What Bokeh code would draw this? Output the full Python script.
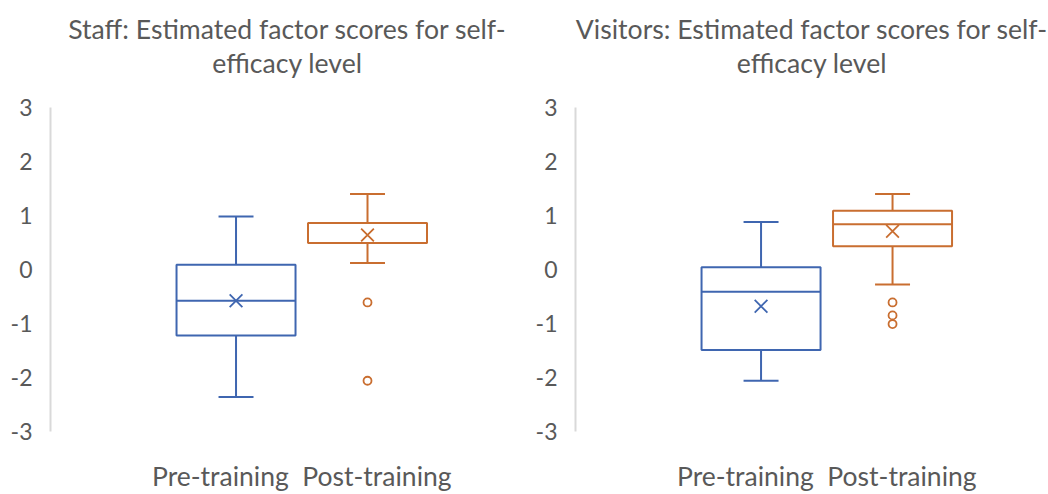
import numpy as np
from bokeh.plotting import figure
from bokeh.layouts import row
from bokeh.models import Range1d, FixedTicker, Title
from bokeh.embed import file_html
from bokeh.resources import INLINE

# ---------------- data ----------------
groups = ["Pre-training", "Post-training"]
x_label = "Pre-training\u00a0\u00a0Post-training"
y_ticks = [-3, -2, -1, 0, 1, 2, 3]

staff_title = ["Staff: Estimated factor scores for self-", "efficacy level"]
staff_low = [-2.36, 0.12]
staff_q1 = [-1.22, 0.49]
staff_median = [-0.58, 0.86]
staff_q3 = [0.09, 0.86]
staff_high = [0.98, 1.40]
staff_mean = [-0.58, 0.64]
staff_outliers_post = [-0.61, -2.06]

visitors_title = ["Visitors: Estimated factor scores for self-", "efficacy level"]
visitors_low = [-2.06, -0.28]
visitors_q1 = [-1.49, 0.43]
visitors_median = [-0.41, 0.84]
visitors_q3 = [0.04, 1.09]
visitors_high = [0.88, 1.40]
visitors_mean = [-0.68, 0.71]
visitors_outliers_post = [-0.61, -0.85, -1.01]

# ---------------- style ----------------
COLORS = ["#3F66B0", "#C96E30"]
TEXT = "#595959"
FONT = "Lato"
BOX_W = 0.905
CAP_W = 0.266
H = 494


def make(title_lines, low, q1, med, q3, high, mean, outliers, width, border_left,
         x_end):
    xs = np.arange(len(groups), dtype=float)
    p = figure(width=width, height=H, output_backend="svg", toolbar_location=None,
               title=None,
               x_range=Range1d(-1.411, x_end), y_range=Range1d(-3, 3),
               min_border_left=border_left, min_border_right=0,
               min_border_top=107, min_border_bottom=H - 433,
               background_fill_color=None, border_fill_color=None)
    p.outline_line_color = None
    p.xgrid.visible = False
    p.ygrid.visible = False

    # spacer between the plot and the title (first "above" item sits nearest the plot)
    p.add_layout(Title(text=" ", text_font=FONT, text_font_size="10px",
                       standoff=15), "above")
    # two-line title, each line centred
    for line in reversed(title_lines):
        p.add_layout(Title(text=line, align="center", text_font=FONT,
                           text_font_size="26.6px", text_font_style="normal",
                           text_color=TEXT, standoff=0),
                     "above")

    ya = p.yaxis[0]
    ya.ticker = FixedTicker(ticks=y_ticks)
    ya.major_label_overrides = {t: str(t) for t in y_ticks}
    ya.axis_line_color = "#D9D9D9"
    ya.axis_line_width = 2
    ya.major_tick_line_color = None
    ya.minor_tick_line_color = None
    ya.major_tick_out = 0
    ya.major_tick_in = 0
    ya.major_label_standoff = 18
    ya.major_label_text_font = FONT
    ya.major_label_text_font_size = "23px"
    ya.major_label_text_color = TEXT

    # category label centred under the pair of boxes
    xa = p.xaxis[0]
    centre = float(xs.mean())
    xa.ticker = FixedTicker(ticks=[centre])
    xa.major_label_overrides = {centre: x_label}
    xa.axis_line_color = None
    xa.major_tick_line_color = None
    xa.minor_tick_line_color = None
    xa.major_tick_out = 0
    xa.major_tick_in = 0
    xa.major_label_standoff = 28
    xa.major_label_text_font = FONT
    xa.major_label_text_font_size = "26.5px"
    xa.major_label_text_color = TEXT

    cols = COLORS[:len(groups)]
    # boxes
    p.vbar(x=xs, width=BOX_W, top=q3, bottom=q1, fill_color=None,
           line_color=cols, line_width=2)
    # whiskers
    p.segment(x0=xs, y0=q3, x1=xs, y1=high, line_color=cols, line_width=2)
    p.segment(x0=xs, y0=q1, x1=xs, y1=low, line_color=cols, line_width=2)
    # caps
    p.segment(x0=xs - CAP_W / 2, y0=high, x1=xs + CAP_W / 2, y1=high,
              line_color=cols, line_width=2)
    p.segment(x0=xs - CAP_W / 2, y0=low, x1=xs + CAP_W / 2, y1=low,
              line_color=cols, line_width=2)
    # medians
    p.segment(x0=xs - BOX_W / 2, y0=med, x1=xs + BOX_W / 2, y1=med,
              line_color=cols, line_width=2)
    # means
    p.scatter(x=xs, y=mean, marker="x", size=18, line_color=cols, line_width=1.8)
    # outliers (post-training)
    k = groups.index("Post-training")
    p.scatter(x=[xs[k]] * len(outliers), y=outliers, marker="circle", size=8,
              fill_color="white", line_color=COLORS[k], line_width=1.8)
    return p


p1 = make(staff_title, staff_low, staff_q1, staff_median, staff_q3, staff_high,
          staff_mean, staff_outliers_post, width=524, border_left=50,
          x_end=2.194)
p2 = make(visitors_title, visitors_low, visitors_q1, visitors_median, visitors_q3,
          visitors_high, visitors_mean, visitors_outliers_post, width=524,
          border_left=51, x_end=2.186)

layout = row(p1, p2, spacing=0)
open("out.html", "w").write(file_html(layout, INLINE))
